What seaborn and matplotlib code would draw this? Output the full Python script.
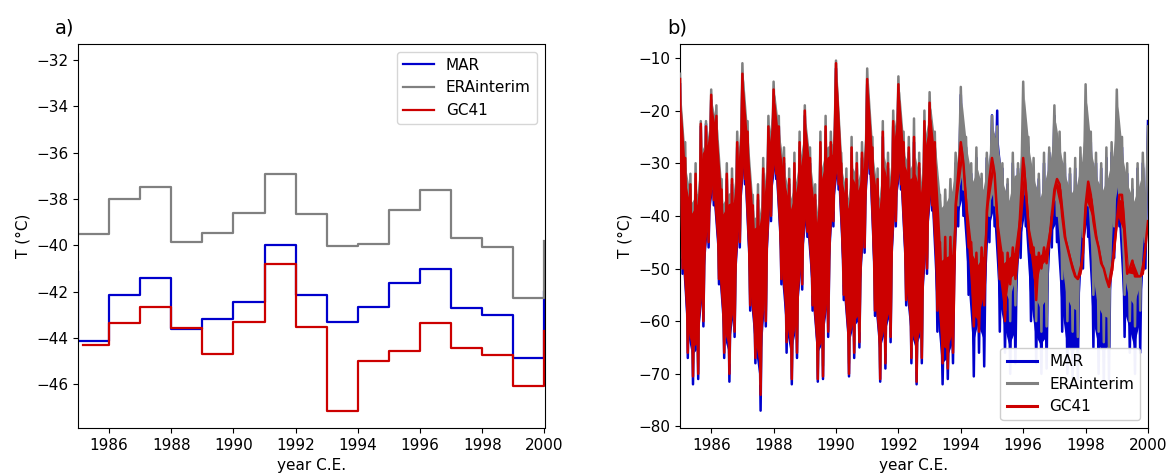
import numpy as np
import pandas as pd
import matplotlib
matplotlib.use("Agg")
import matplotlib.pyplot as plt
import seaborn as sns

# ---------------- panel a: annual means (step plot) ----------------
years_ann = [1984, 1985, 1986, 1987, 1988, 1989, 1990, 1991, 1992, 1993,
             1994, 1995, 1996, 1997, 1998, 1999, 2000]
mar_ann = [-41.1, -44.11, -42.13, -41.40, -43.61, -43.18, -42.43, -39.98, -42.13,
           -43.29, -42.66, -41.63, -41.02, -42.69, -43.00, -44.86, -42.0]
era_ann = [-36.86, -39.49, -38.01, -37.47, -39.85, -39.47, -38.59, -36.91, -38.66,
           -40.03, -39.92, -38.46, -37.61, -39.70, -40.06, -42.27, -39.8]
years_gc = [1985.17, 1986, 1987, 1988, 1989, 1990, 1991, 1992, 1993,
            1994, 1995, 1996, 1997, 1998, 1999, 2000]
gc_ann = [-44.31, -43.35, -42.67, -43.56, -44.68, -43.32, -40.82, -43.53,
          -47.14, -44.97, -44.54, -43.36, -44.44, -44.75, -46.06, -43.7]

# ---------------- panel b: monthly highs/lows ----------------
# 12 values per year (1985..1999) + value at 2000.0; even months = high, odd = low
gc41 = [
    -14, -50, -29, -66, -34, -70.5, -32, -70, -22.5, -60, -23, -45,      # 1985
    -17, -37, -21, -52, -35, -66, -32, -70, -33, -62, -26, -45,          # 1986
    -13, -33, -24, -57, -38, -67, -36, -74, -31, -60, -23, -40,          # 1987
    -16, -32, -23, -52, -29, -64, -33, -71, -30, -66, -26, -53,          # 1988
    -20, -43, -29, -57, -36, -71, -26, -70.5, -23, -62, -26, -41,        # 1989
    -11, -34, -30, -55, -33, -70, -27, -66, -30, -64, -28, -46,          # 1990
    -14, -31, -27, -58, -33, -71, -24, -68, -30, -63, -22, -41,          # 1991
    -15, -34, -26, -56, -27, -67, -25, -71.5, -30, -67, -22, -50,        # 1992
    -18.5, -38, -26, -58, -45, -68, -44, -69, -44, -66, -38, -32,        # 1993
    -26, -30, -37, -46, -45, -61, -47, -62, -46, -57, -39, -33,          # 1994
    -29, -32, -40, -52, -47, -60, -47, -53, -46, -52, -47, -38,          # 1995
    -29, -35, -42, -47, -46, -56, -47, -50, -46, -49, -45, -40,          # 1996
    -35, -33, -34, -40, -44, -46, -48, -50, -51.5, -52, -51, -47,        # 1997
    -38, -33.5, -36, -41, -44, -46, -49, -50, -52, -53.5, -51, -46,      # 1998
    -41, -36, -36, -44, -51, -50, -48.5, -51.5, -51.5, -51.5, -51, -46,  # 1999
    -41,                                                                 # 2000
]
era = [
    -13, -48, -26, -64, -32, -68, -30, -68, -22, -58, -22, -43,          # 1985
    -16, -35, -19, -50, -33, -64, -30, -68, -31, -60, -24, -43,          # 1986
    -11, -31, -22, -55, -36, -65, -34, -72, -29, -58, -21, -38,          # 1987
    -14.5, -30, -21, -50, -27, -62, -31, -69, -28, -64, -24, -51,        # 1988
    -19, -41, -27, -55, -34, -69, -24, -68.5, -21, -60, -24, -39,        # 1989
    -10.5, -32, -28, -53, -31, -68, -25, -64, -28, -62, -26, -44,        # 1990
    -12, -29, -25, -56, -31, -69, -22, -66, -28, -61, -20, -39,          # 1991
    -13.5, -32, -24, -54, -25, -65, -21.5, -69.5, -28, -65, -20, -48,    # 1992
    -16.5, -36, -24, -50, -36, -52, -35, -50, -33, -48, -28, -38,        # 1993
    -15.5, -35, -25, -44, -30, -53, -27, -55, -32, -52, -28, -40,        # 1994
    -21, -38, -23, -52, -30, -58, -33, -60, -28, -57, -30, -42,          # 1995
    -14.5, -36, -25, -46, -29, -60, -32, -62, -28, -61, -27, -40,        # 1996
    -19, -40, -24, -52, -28, -60, -31, -62, -29, -63, -27, -44,          # 1997
    -15, -38, -24, -55, -28, -62, -30, -64, -27, -65, -26, -42,          # 1998
    -16, -37, -25, -55, -30, -60, -33, -61, -30, -58, -28, -45,          # 1999
    -23,                                                                 # 2000
]
mar = [
    -15, -51, -31, -67, -35, -72, -33, -71, -23, -61, -22.5, -46,        # 1985
    -18, -38, -22, -53, -36, -67, -33, -71.5, -34, -63, -27, -46,        # 1986
    -14, -34, -25, -58, -39, -68, -37, -77, -32, -61, -24, -41,          # 1987
    -17, -33, -23, -53, -30, -66, -34, -72, -31, -67, -27, -54,          # 1988
    -21, -44, -30, -58, -37, -71.5, -27, -71, -24, -63, -27, -42,        # 1989
    -12, -35, -31, -56, -34, -70.5, -28, -67, -31, -65, -29, -47,        # 1990
    -15, -32, -28, -59, -34, -71.5, -25, -69, -31, -64, -23, -42,        # 1991
    -16, -35, -27, -57, -28, -68, -26, -72, -31, -68, -23, -51,          # 1992
    -19, -39, -27, -62, -46, -72, -45, -71, -44, -68, -30, -42,          # 1993
    -17, -40, -27, -55, -32, -70.5, -29, -66, -33, -68.6, -29, -45,      # 1994
    -20.9, -42, -20, -62, -31, -66, -34, -70, -30, -68, -31, -48,        # 1995
    -26.5, -42, -27, -60, -31, -68, -33, -70, -30, -69, -28, -46,        # 1996
    -21, -45, -26, -62, -30, -70, -32, -72, -31, -71, -29, -50,          # 1997
    -24.8, -44, -26, -65, -30, -70, -31, -72, -29, -71, -28, -48,        # 1998
    -24.5, -42, -27, -63, -32, -66, -35, -70, -31, -66, -30, -50,        # 1999
    -22,                                                                 # 2000
]
t_month = 1985 + np.arange(len(mar)) / 12.0
# each high/low pair of consecutive months forms one 2-month group
t_pair = t_month[(np.arange(len(mar)) // 2) * 2] + 1.0 / 24.0

labels = ["MAR", "ERAinterim", "GC41"]
colors = {"MAR": "#0000cc", "ERAinterim": "#808080", "GC41": "#cc0000"}
series_b = {"MAR": mar, "ERAinterim": era, "GC41": gc41}
year_ticks = [1986, 1988, 1990, 1992, 1994, 1996, 1998, 2000]

plt.rcParams["font.size"] = 11
plt.rcParams["font.family"] = ["DejaVu Sans"]

fig = plt.figure(figsize=(11.75, 4.75), dpi=100)
ax1 = fig.add_axes([78 / 1175, 1 - 428 / 475, (544.5 - 78) / 1175, (428 - 44) / 475])
ax2 = fig.add_axes([680 / 1175, 1 - 428 / 475, (1148 - 680) / 1175, (428 - 44) / 475])

# panel a
sns.lineplot(x=years_ann, y=mar_ann, ax=ax1, color=colors["MAR"], lw=1.6,
             drawstyle="steps-post", label="MAR")
sns.lineplot(x=years_ann, y=era_ann, ax=ax1, color=colors["ERAinterim"], lw=1.6,
             drawstyle="steps-post", label="ERAinterim")
sns.lineplot(x=years_gc, y=gc_ann, ax=ax1, color=colors["GC41"], lw=1.6,
             drawstyle="steps-post", label="GC41")
ax1.set_xlim(1985, 2000)
ax1.set_ylim(-47.88, -31.31)
ax1.set_yticks([-46, -44, -42, -40, -38, -36, -34, -32])
ax1.set_xticks(year_ticks)
ax1.set_xlabel("year C.E.")
ax1.set_ylabel("T (°C)")
ax1.legend(loc="upper right")

# panel b: central percentile range of each 2-month group + the high/low trace
for k, name in enumerate(labels):
    vals = series_b[name]
    band = pd.DataFrame({"t": t_pair, "T": vals})
    sns.lineplot(data=band, x="t", y="T", estimator="mean", errorbar=("pi", 70),
                 color=colors[name], lw=0, zorder=2 * k + 1,
                 err_kws={"alpha": 1.0, "linewidth": 0, "zorder": 2 * k + 1},
                 ax=ax2, legend=False)
    sns.lineplot(x=t_month, y=vals, ax=ax2, color=colors[name], lw=1.8,
                 zorder=2 * k + 2, label=name)
ax2.set_xlim(1985, 2000)
ax2.set_ylim(-80.3, -7.35)
ax2.set_yticks([-80, -70, -60, -50, -40, -30, -20, -10])
ax2.set_xticks(year_ticks)
ax2.set_xlabel("year C.E.")
ax2.set_ylabel("T (°C)")
leg = ax2.legend(loc="lower right", framealpha=0.95)
leg.set_zorder(20)
for h in leg.get_lines():
    h.set_linewidth(2.2)

fig.text(55 / 1175, 1 - 34 / 475, "a)", fontsize=14)
fig.text(667 / 1175, 1 - 34 / 475, "b)", fontsize=14)

fig.savefig("out.png", dpi=100)
